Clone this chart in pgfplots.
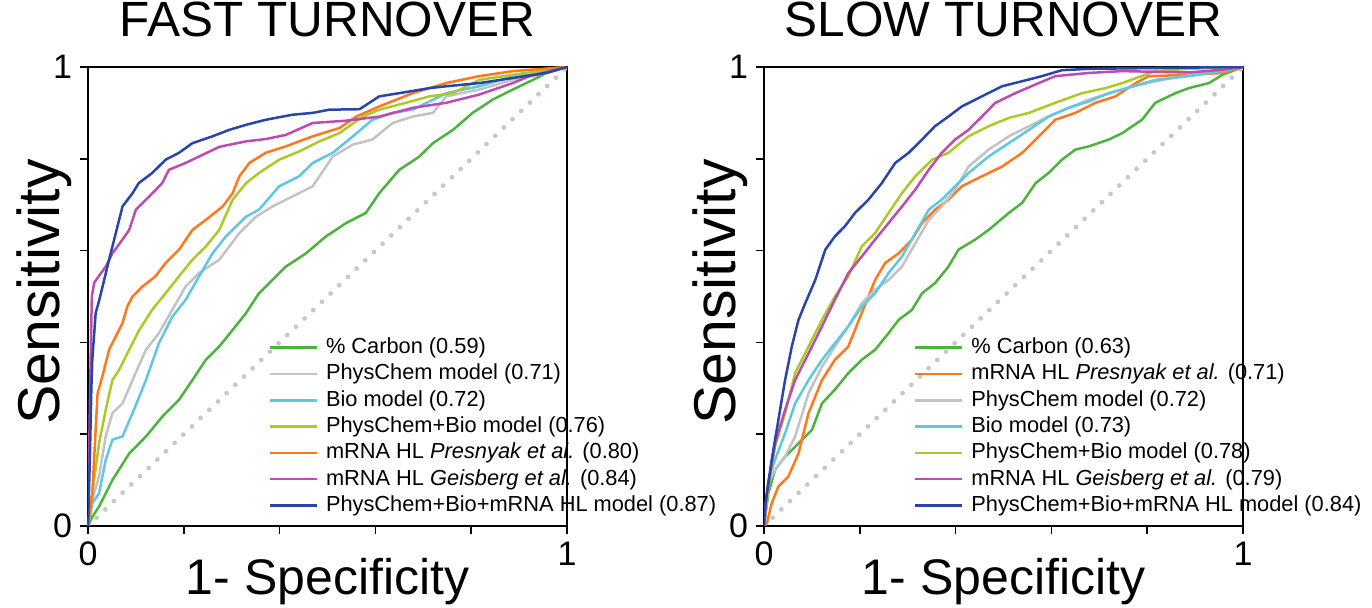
\documentclass[border=0pt]{standalone}
\usepackage{fontspec}
\setmainfont{Liberation Sans}
\usepackage{pgfplots}
\pgfplotsset{compat=1.18}

\definecolor{cCarbon}{RGB}{75,180,60}
\definecolor{cPhys}{RGB}{195,195,195}
\definecolor{cBio}{RGB}{95,200,225}
\definecolor{cPB}{RGB}{175,200,40}
\definecolor{cPres}{RGB}{255,120,30}
\definecolor{cGeis}{RGB}{190,75,175}
\definecolor{cAll}{RGB}{40,70,170}
\definecolor{cDiag}{RGB}{200,200,200}

\pgfplotsset{
  rocax/.style={
    scale only axis, width=239.5pt, height=229.5pt,
    xmin=0, xmax=1, ymin=0, ymax=1,
    xtick={0,0.2,0.4,0.6,0.8,1}, ytick={0,0.2,0.4,0.6,0.8,1},
    xticklabels={0,,,,,1}, yticklabels={0,,,,,1},
    tick align=outside, tick pos=left, major tick length=3.8pt,
    axis line style={line width=0.8pt},
    every tick/.style={black, line width=0.8pt},
    /pgf/number format/assume math mode=true,
    ticklabel style={font=\fontsize{17}{17}\selectfont, inner sep=0pt},
    xticklabel style={yshift=-4pt},
    yticklabel style={xshift=-4pt},
    title style={font=\fontsize{24.75}{28}\selectfont, at={(0.5,1)}, anchor=base, yshift=9.2pt},
    xlabel style={font=\fontsize{25}{28}\selectfont, at={(axis description cs:0.5,0)}, anchor=base, yshift=-34.5pt},
    ylabel style={font=\fontsize{29.5}{32}\selectfont, at={(axis description cs:-0.0585,0.51)}, anchor=base},
    xlabel={1- Specificity}, ylabel={Sensitivity},
    every axis plot/.append style={line width=1.25pt},
    legend cell align=left,
    legend image code/.code={\draw[#1, line width=1.25pt] (0pt,0pt) -- (23.5pt,0pt);},
    legend style={draw=none, fill=none, anchor=north west, inner sep=0pt,
      font=\fontsize{10.9}{13.2}\selectfont,
      nodes={inner sep=0pt, text height=8.3pt, text depth=2.4pt},
      row sep=2.45pt, column sep=4pt},
  },
  diag/.style={cDiag, line width=2.4pt, line cap=round, dash pattern=on 0pt off 6pt},
}

\begin{document}
\begin{tikzpicture}
% ---------------- FAST TURNOVER ----------------
\begin{axis}[rocax, title={FAST TURNOVER},
  legend style={at={(0.376,0.4126)}}]
\addplot[diag, forget plot] coordinates {(0,0) (1,1)};
\addplot[cCarbon] coordinates {
(0,0) (0.009,0.020) (0.023,0.042) (0.051,0.100) (0.086,0.158) (0.121,0.195)
(0.155,0.238) (0.190,0.275) (0.218,0.318) (0.246,0.362) (0.274,0.391)
(0.302,0.427) (0.330,0.464) (0.357,0.507) (0.385,0.536) (0.413,0.565)
(0.455,0.594) (0.497,0.631) (0.539,0.660) (0.580,0.682) (0.608,0.725)
(0.650,0.776) (0.692,0.805) (0.720,0.834) (0.762,0.863) (0.803,0.900)
(0.845,0.929) (0.887,0.951) (0.929,0.972) (0.957,0.987) (1,1)};
\addlegendentry{\% Carbon (0.59)}
\addplot[cPhys] coordinates {
(0,0) (0.009,0.057) (0.023,0.108) (0.037,0.195) (0.051,0.246) (0.072,0.267)
(0.093,0.318) (0.121,0.384) (0.148,0.420) (0.176,0.471) (0.204,0.522)
(0.232,0.551) (0.274,0.580) (0.316,0.638) (0.351,0.674) (0.385,0.696)
(0.427,0.718) (0.469,0.740) (0.511,0.805) (0.553,0.831) (0.594,0.842)
(0.636,0.878) (0.678,0.892) (0.720,0.900) (0.748,0.936) (0.817,0.951)
(0.887,0.972) (0.957,0.987) (1,1)};
\addlegendentry{PhysChem model (0.71)}
\addplot[cBio] coordinates {
(0,0) (0.009,0.049) (0.023,0.071) (0.037,0.144) (0.051,0.188) (0.072,0.195)
(0.093,0.246) (0.121,0.318) (0.148,0.398) (0.176,0.456) (0.204,0.493)
(0.232,0.544) (0.260,0.594) (0.288,0.631) (0.330,0.674) (0.357,0.689)
(0.399,0.740) (0.441,0.762) (0.469,0.791) (0.511,0.813) (0.553,0.849)
(0.594,0.885) (0.636,0.900) (0.678,0.907) (0.748,0.943) (0.817,0.958)
(0.887,0.980) (0.957,0.991) (1,1)};
\addlegendentry{Bio model (0.72)}
\addplot[cPB] coordinates {
(0,0) (0.009,0.071) (0.023,0.180) (0.037,0.253) (0.051,0.318) (0.065,0.340)
(0.086,0.384) (0.107,0.427) (0.134,0.471) (0.162,0.507) (0.190,0.544)
(0.218,0.580) (0.246,0.609) (0.274,0.645) (0.302,0.711) (0.330,0.747)
(0.357,0.769) (0.399,0.798) (0.441,0.816) (0.483,0.838) (0.525,0.856)
(0.574,0.892) (0.608,0.907) (0.664,0.922) (0.713,0.936) (0.762,0.943)
(0.817,0.972) (0.887,0.983) (1,1)};
\addlegendentry{PhysChem+Bio model (0.76)}
\addplot[cPres] coordinates {
(0,0) (0.009,0.071) (0.020,0.289) (0.030,0.326) (0.044,0.384) (0.058,0.413)
(0.072,0.442) (0.082,0.478) (0.093,0.500) (0.114,0.522) (0.141,0.544)
(0.162,0.573) (0.190,0.602) (0.218,0.645) (0.246,0.667) (0.281,0.696)
(0.302,0.725) (0.316,0.762) (0.337,0.791) (0.371,0.813) (0.413,0.827)
(0.469,0.849) (0.525,0.867) (0.560,0.892) (0.608,0.914) (0.678,0.943)
(0.748,0.965) (0.817,0.980) (0.887,0.991) (1,1)};
\addlegendentry{mRNA HL \textit{Presnyak et al.} (0.80)}
\addplot[cGeis] coordinates {
(0,0) (0.003,0.20) (0.006,0.391) (0.008,0.50) (0.013,0.530) (0.023,0.545)
(0.037,0.565) (0.051,0.594) (0.072,0.624) (0.086,0.645) (0.100,0.689)
(0.128,0.718) (0.155,0.747) (0.169,0.776) (0.204,0.791) (0.246,0.812)
(0.274,0.826) (0.330,0.838) (0.371,0.843) (0.413,0.852) (0.469,0.878)
(0.539,0.883) (0.608,0.892) (0.678,0.911) (0.748,0.922) (0.817,0.940)
(0.887,0.965) (0.922,0.980) (1,1)};
\addlegendentry{mRNA HL \textit{Geisberg et al.} (0.84)}
\addplot[cAll] coordinates {
(0,0) (0.004,0.15) (0.007,0.30) (0.009,0.362) (0.016,0.464) (0.023,0.490)
(0.044,0.580) (0.058,0.638) (0.072,0.696) (0.093,0.725) (0.106,0.747)
(0.134,0.769) (0.162,0.798) (0.190,0.813) (0.218,0.834) (0.260,0.849)
(0.295,0.863) (0.330,0.874) (0.371,0.885) (0.427,0.896) (0.469,0.900)
(0.504,0.907) (0.567,0.908) (0.608,0.936) (0.650,0.943) (0.713,0.954)
(0.748,0.958) (0.817,0.965) (0.887,0.976) (0.957,0.987) (1,1)};
\addlegendentry{PhysChem+Bio+mRNA HL model (0.87)}
\end{axis}
% ---------------- SLOW TURNOVER ----------------
\begin{axis}[rocax, at={(338pt,0pt)}, title={SLOW TURNOVER},
  legend style={at={(0.312,0.4126)}}]
\addplot[diag, forget plot] coordinates {(0,0) (1,1)};
\addplot[cCarbon] coordinates {
(0,0) (0.009,0.071) (0.023,0.122) (0.044,0.151) (0.072,0.180) (0.100,0.209)
(0.121,0.267) (0.148,0.297) (0.176,0.333) (0.204,0.362) (0.232,0.384)
(0.260,0.420) (0.281,0.449) (0.309,0.471) (0.330,0.507) (0.357,0.529)
(0.385,0.565) (0.406,0.602) (0.441,0.624) (0.469,0.645) (0.511,0.682)
(0.539,0.704) (0.567,0.747) (0.594,0.769) (0.622,0.798) (0.650,0.820)
(0.678,0.827) (0.720,0.842) (0.748,0.856) (0.789,0.885) (0.817,0.922)
(0.859,0.943) (0.887,0.954) (0.929,0.965) (0.957,0.983) (1,1)};
\addlegendentry{\% Carbon (0.63)}
\addplot[cPres] coordinates {
(0,0) (0.006,0.006) (0.016,0.049) (0.030,0.086) (0.051,0.108) (0.072,0.158)
(0.093,0.246) (0.121,0.318) (0.148,0.362) (0.176,0.391) (0.204,0.464)
(0.232,0.536) (0.253,0.573) (0.281,0.594) (0.309,0.624) (0.330,0.660)
(0.357,0.689) (0.385,0.711) (0.413,0.740) (0.455,0.762) (0.497,0.783)
(0.539,0.813) (0.567,0.842) (0.608,0.885) (0.650,0.900) (0.692,0.922)
(0.734,0.936) (0.776,0.965) (0.803,0.980) (0.887,0.983) (0.957,0.987) (1,1)};
\addlegendentry{mRNA HL \textit{Presnyak et al.} (0.71)}
\addplot[cPhys] coordinates {
(0,0) (0.009,0.093) (0.023,0.122) (0.044,0.151) (0.065,0.195) (0.093,0.289)
(0.121,0.347) (0.148,0.391) (0.176,0.435) (0.204,0.485) (0.232,0.515)
(0.260,0.536) (0.288,0.565) (0.316,0.616) (0.344,0.667) (0.371,0.696)
(0.399,0.733) (0.427,0.783) (0.469,0.820) (0.511,0.849) (0.553,0.871)
(0.594,0.892) (0.636,0.911) (0.678,0.929) (0.734,0.947) (0.783,0.961)
(0.852,0.976) (0.922,0.987) (1,1)};
\addlegendentry{PhysChem model (0.72)}
\addplot[cBio] coordinates {
(0,0) (0.009,0.100) (0.023,0.144) (0.044,0.202) (0.065,0.267) (0.093,0.318)
(0.121,0.362) (0.148,0.398) (0.176,0.435) (0.204,0.478) (0.232,0.507)
(0.260,0.551) (0.288,0.587) (0.316,0.638) (0.344,0.689) (0.371,0.711)
(0.399,0.740) (0.427,0.769) (0.469,0.805) (0.511,0.834) (0.553,0.863)
(0.594,0.892) (0.636,0.911) (0.678,0.925) (0.720,0.943) (0.748,0.951)
(0.817,0.972) (0.887,0.980) (0.957,0.991) (1,1)};
\addlegendentry{Bio model (0.73)}
\addplot[cPB] coordinates {
(0,0) (0.009,0.086) (0.023,0.173) (0.044,0.246) (0.065,0.333) (0.093,0.391)
(0.121,0.449) (0.148,0.500) (0.176,0.544) (0.204,0.609) (0.232,0.638)
(0.260,0.682) (0.288,0.725) (0.316,0.762) (0.351,0.798) (0.385,0.813)
(0.427,0.849) (0.469,0.871) (0.511,0.889) (0.553,0.900) (0.608,0.922)
(0.664,0.943) (0.713,0.954) (0.748,0.965) (0.817,0.991) (0.887,0.996) (1,1)};
\addlegendentry{PhysChem+Bio model (0.78)}
\addplot[cGeis] coordinates {
(0,0) (0.006,0.071) (0.023,0.180) (0.044,0.253) (0.065,0.318) (0.093,0.376)
(0.121,0.435) (0.148,0.493) (0.176,0.551) (0.204,0.587) (0.232,0.624)
(0.260,0.660) (0.288,0.696) (0.316,0.733) (0.344,0.776) (0.371,0.813)
(0.399,0.842) (0.427,0.863) (0.455,0.892) (0.483,0.922) (0.525,0.943)
(0.567,0.962) (0.608,0.980) (0.678,0.987) (0.748,0.991) (0.887,0.988)
(0.957,0.994) (1,1)};
\addlegendentry{mRNA HL \textit{Geisberg et al.} (0.79)}
\addplot[cAll] coordinates {
(0,0) (0.002,0.042) (0.016,0.144) (0.030,0.231) (0.044,0.318) (0.058,0.391)
(0.072,0.449) (0.086,0.485) (0.107,0.536) (0.128,0.602) (0.148,0.631)
(0.169,0.653) (0.190,0.682) (0.218,0.711) (0.246,0.747) (0.274,0.791)
(0.302,0.813) (0.330,0.842) (0.357,0.871) (0.385,0.892) (0.413,0.914)
(0.455,0.936) (0.497,0.958) (0.539,0.969) (0.580,0.980) (0.622,0.993)
(0.678,0.996) (1,1)};
\addlegendentry{PhysChem+Bio+mRNA HL model (0.84)}
\end{axis}
\pgfresetboundingbox
\path (-44pt,-41pt) rectangle (642pt,263pt);
\end{tikzpicture}
\end{document}
